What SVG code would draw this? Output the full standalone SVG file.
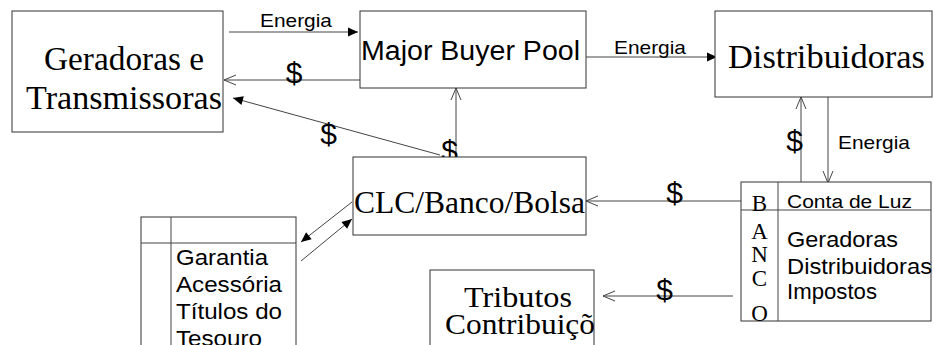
<svg xmlns="http://www.w3.org/2000/svg" width="934" height="345" viewBox="0 0 934 345">
<style>
.box{fill:#fff;stroke:#333;stroke-width:1}
.ln{fill:none;stroke:#444;stroke-width:1}
.ser{font-family:"Liberation Serif","Times New Roman",serif;fill:#000}
.san{font-family:"Liberation Sans",Arial,sans-serif;fill:#000}
.dol{font-family:"Liberation Sans",Arial,sans-serif;font-size:30px;fill:#000;text-anchor:middle}
</style>
<defs>
<marker id="fill" markerUnits="userSpaceOnUse" markerWidth="12" markerHeight="12" viewBox="0 0 12 12" refX="11" refY="6" orient="auto">
<path d="M1,1.5 L11,6 L1,10.5 Z" fill="#000"/>
</marker>
<marker id="open" markerUnits="userSpaceOnUse" markerWidth="14" markerHeight="14" viewBox="0 0 14 14" refX="13" refY="7" orient="auto">
<path d="M1,2 L13,7 L1,12" fill="none" stroke="#444" stroke-width="1"/>
</marker>
<clipPath id="tribClip"><rect x="430" y="270" width="164" height="80"/></clipPath>
</defs>

<g id="connectors">
<line class="ln" x1="229" y1="32" x2="358" y2="32" marker-end="url(#fill)"/>
<line class="ln" x1="360" y1="80" x2="224" y2="80" marker-end="url(#open)"/>
<line class="ln" x1="440" y1="155" x2="233" y2="98" marker-end="url(#fill)"/>
<line class="ln" x1="456" y1="157" x2="456" y2="88" marker-end="url(#open)"/>
<line class="ln" x1="586" y1="57" x2="717" y2="57" marker-end="url(#fill)"/>
<line class="ln" x1="801" y1="183" x2="801" y2="97" marker-end="url(#open)"/>
<line class="ln" x1="828" y1="97" x2="828" y2="183" marker-end="url(#open)"/>
<line class="ln" x1="741" y1="201" x2="586" y2="201" marker-end="url(#open)"/>
<line class="ln" x1="733" y1="296" x2="603" y2="296" marker-end="url(#open)"/>
<line class="ln" x1="352" y1="202" x2="301" y2="242" marker-end="url(#fill)"/>
<line class="ln" x1="301" y1="261" x2="352" y2="219" marker-end="url(#fill)"/>
<text class="san" x="260" y="27" font-size="19" textLength="72" lengthAdjust="spacingAndGlyphs">Energia</text>
<text class="san" x="614" y="54" font-size="19" textLength="72" lengthAdjust="spacingAndGlyphs">Energia</text>
<text class="san" x="838" y="149" font-size="19" textLength="72" lengthAdjust="spacingAndGlyphs">Energia</text>
<text class="dol" x="294" y="83">$</text>
<text class="dol" x="328.7" y="144">$</text>
<text class="dol" x="449.5" y="161">$</text>
<text class="dol" x="794.5" y="151">$</text>
<text class="dol" x="674.5" y="203">$</text>
<text class="dol" x="664.5" y="300">$</text>
</g>

<g id="geradoras">
<rect class="box" x="12" y="11" width="211" height="121"/>
<text class="ser" x="44" y="70" font-size="33" textLength="160" lengthAdjust="spacingAndGlyphs">Geradoras e</text>
<text class="ser" x="26" y="109" font-size="33" textLength="196" lengthAdjust="spacingAndGlyphs">Transmissoras</text>
</g>

<g id="major-buyer-pool">
<rect class="box" x="360" y="11" width="226" height="77"/>
<text class="san" x="361" y="59.5" font-size="27" textLength="219" lengthAdjust="spacingAndGlyphs">Major Buyer Pool</text>
</g>

<g id="distribuidoras">
<rect class="box" x="715" y="11" width="217" height="86"/>
<text class="ser" x="728" y="68" font-size="33" textLength="197" lengthAdjust="spacingAndGlyphs">Distribuidoras</text>
</g>

<g id="clc">
<rect class="box" x="353" y="157" width="233" height="78"/>
<text class="ser" x="354" y="213" font-size="31" textLength="231" lengthAdjust="spacingAndGlyphs">CLC/Banco/Bolsa</text>
</g>

<g id="banco">
<rect class="box" x="741" y="182" width="190" height="139"/>
<line class="ln" x1="778" y1="182" x2="778" y2="321"/>
<line class="ln" x1="741" y1="210" x2="931" y2="210"/>
<text class="ser" x="759.5" y="211" font-size="23" text-anchor="middle">B</text>
<text class="ser" x="759.5" y="238.5" font-size="23" text-anchor="middle">A</text>
<text class="ser" x="759.5" y="262" font-size="23" text-anchor="middle">N</text>
<text class="ser" x="759.5" y="285.5" font-size="23" text-anchor="middle">C</text>
<text class="ser" x="759.5" y="321" font-size="23" text-anchor="middle">O</text>
<text class="san" x="787" y="208" font-size="18" textLength="125" lengthAdjust="spacingAndGlyphs">Conta de Luz</text>
<text class="san" x="787" y="247" font-size="22" textLength="111" lengthAdjust="spacingAndGlyphs">Geradoras</text>
<text class="san" x="787" y="274" font-size="22" textLength="145" lengthAdjust="spacingAndGlyphs">Distribuidoras</text>
<text class="san" x="787" y="299" font-size="22" textLength="90" lengthAdjust="spacingAndGlyphs">Impostos</text>
</g>

<g id="garantia">
<rect class="box" x="141" y="217" width="155" height="140"/>
<line class="ln" x1="171" y1="217" x2="171" y2="357"/>
<line class="ln" x1="141" y1="243" x2="296" y2="243"/>
<text class="san" x="176" y="265" font-size="22" textLength="92" lengthAdjust="spacingAndGlyphs">Garantia</text>
<text class="san" x="176" y="292" font-size="22" textLength="106" lengthAdjust="spacingAndGlyphs">Acessória</text>
<text class="san" x="176" y="319" font-size="22" textLength="106" lengthAdjust="spacingAndGlyphs">Títulos do</text>
<text class="san" x="176" y="346" font-size="22" textLength="86" lengthAdjust="spacingAndGlyphs">Tesouro</text>
</g>

<g id="tributos">
<rect class="box" x="430" y="270" width="164" height="90"/>
<g clip-path="url(#tribClip)">
<text class="ser" x="464" y="307" font-size="30" textLength="108" lengthAdjust="spacingAndGlyphs">Tributos</text>
<text class="ser" x="445" y="334" font-size="30" textLength="150" lengthAdjust="spacingAndGlyphs">Contribuiçõ</text>
</g>
</g>
</svg>
